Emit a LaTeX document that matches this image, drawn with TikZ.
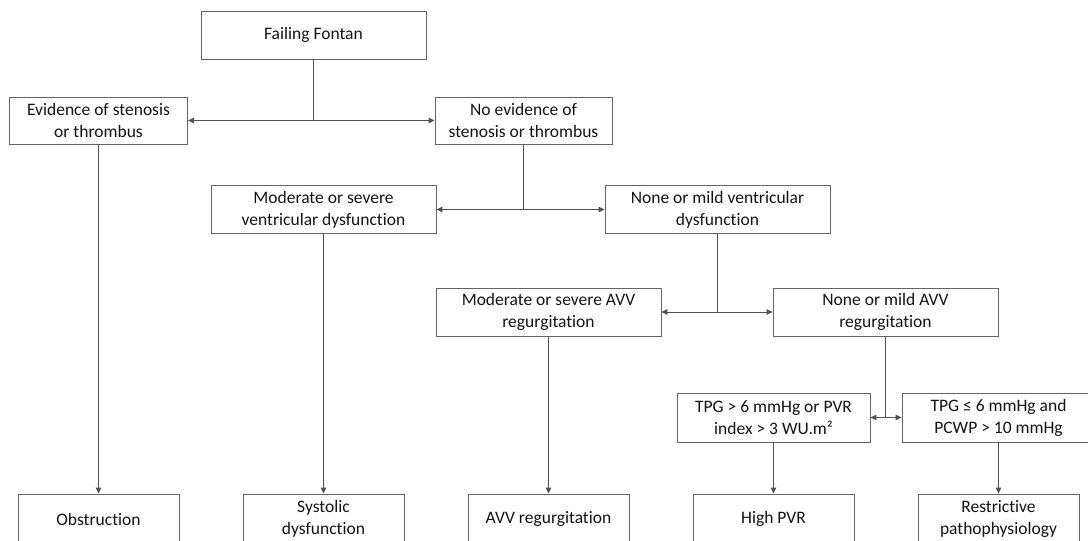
\documentclass[tikz,border=0pt]{standalone}
\usepackage{fontspec}
\setmainfont{Carlito}[Ligatures={NoCommon}]
\usetikzlibrary{arrows.meta}
\definecolor{boxcol}{RGB}{100,100,100}
\definecolor{linecol}{RGB}{80,80,80}
\definecolor{txtcol}{RGB}{20,20,20}
\begin{document}
\begin{tikzpicture}[x=1pt,y=-1pt,
  every node/.style={font=\fontsize{17.5}{22}\selectfont, text=txtcol},
  box/.style={draw=boxcol, line width=0.9pt, fill=white, align=center, inner sep=0pt, minimum height=48pt},
  conn/.style={draw=linecol, line width=0.9pt},
  arr/.style={conn, -{Triangle[length=6pt,width=5.5pt]}}]
\useasboundingbox (0,0) rectangle (1088,541);
\fill[white] (0,0) rectangle (1088,541);
\clip (0,0) rectangle (1088,541);
% level 0
\node[box, minimum width=225pt] (ff) at (313.5,35) {Failing Fontan};
% level 1
\node[box, minimum width=178pt, minimum height=47pt] (ev) at (98.5,120.5) {Evidence of stenosis\\or thrombus};
\node[box, minimum width=177pt, minimum height=47pt] (noev) at (523.5,120.5) {No evidence of\\stenosis or thrombus};
% level 2
\node[box, minimum width=225pt, minimum height=48pt] (modv) at (323.5,209.5) {Moderate or severe\\ventricular dysfunction};
\node[box, minimum width=225pt, minimum height=48pt] (nonev) at (717.5,209.5) {None or mild ventricular\\dysfunction};
% level 3
\node[box, minimum width=225pt] (moda) at (548.5,312) {Moderate or severe AVV\\regurgitation};
\node[box, minimum width=225pt] (nonea) at (885.5,312) {None or mild AVV\\regurgitation};
% level 4
\node[box, minimum width=193pt, minimum height=49pt] (tpga) at (773.5,417.5) {TPG > 6 mmHg or PVR\\index > 3 WU.m²};
\node[box, minimum width=193pt, minimum height=49pt] (tpgb) at (998.5,417.5) {TPG ≤ 6 mmHg and\\PCWP > 10 mmHg};
% outcomes
\node[box, minimum width=161pt, minimum height=50pt] (obs) at (98.5,519) {Obstruction};
\node[box, minimum width=161pt, minimum height=50pt] (sys) at (323.5,519) {Systolic\\dysfunction};
\node[box, minimum width=161pt, minimum height=50pt] (avv) at (548.5,519) {AVV regurgitation};
\node[box, minimum width=161pt, minimum height=50pt] (hpvr) at (773.5,519) {High PVR};
\node[box, minimum width=161pt, minimum height=50pt] (rest) at (998.5,519) {Restrictive\\pathophysiology};
% connectors
\draw[arr] (ff.south) |- (ev.east);
\draw[arr] (ff.south) |- (noev.west);
\draw[arr] (ev.south) -- (obs.north);
\draw[arr] (noev.south) |- (modv.east);
\draw[arr] (noev.south) |- (nonev.west);
\draw[arr] (modv.south) -- (sys.north);
\draw[arr] (nonev.south) |- (moda.east);
\draw[arr] (nonev.south) |- (nonea.west);
\draw[arr] (moda.south) -- (avv.north);
\draw[arr] (nonea.south) |- (tpga.east);
\draw[arr] (nonea.south) |- (tpgb.west);
\draw[arr] (tpga.south) -- (hpvr.north);
\draw[arr] (tpgb.south) -- (rest.north);
\end{tikzpicture}
\end{document}
